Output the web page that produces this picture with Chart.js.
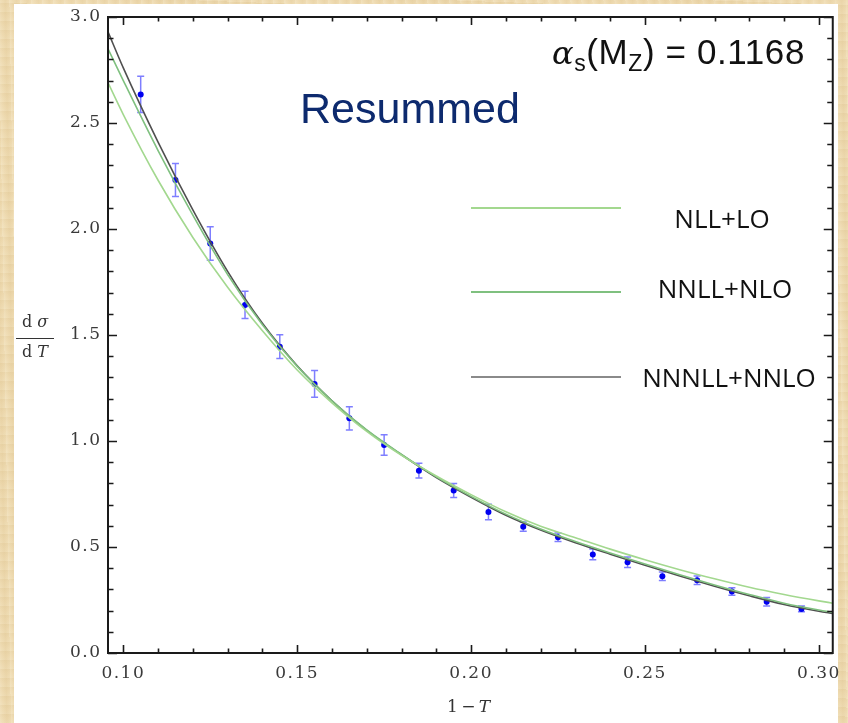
<!DOCTYPE html>
<html>
<head>
<meta charset="utf-8">
<script src="https://cdn.jsdelivr.net/npm/chart.js@4.4.1/dist/chart.umd.min.js"></script>
<style>
  html,body{margin:0;padding:0;}
  body{width:848px;height:723px;position:relative;overflow:hidden;
    background-color:#eedab0;
    background-image:
      repeating-linear-gradient(89deg, rgba(255,250,235,0.18) 0px, rgba(255,255,255,0.0) 3px, rgba(205,170,105,0.12) 7px, rgba(255,255,255,0) 11px),
      repeating-linear-gradient(2deg, rgba(255,250,230,0.12) 0px, rgba(0,0,0,0) 5px, rgba(190,160,100,0.08) 9px);
  }
  #panel{position:absolute;left:14px;top:4px;width:824px;height:719px;background:#fff;}
  #c{position:absolute;left:0;top:0;}
  .txt{position:absolute;white-space:nowrap;}
  #alpha{left:552px;top:32px;font-family:"Liberation Sans",Arial,sans-serif;font-size:35px;letter-spacing:0.6px;color:#111;}
  #alpha .gr{font-family:"DejaVu Serif",serif;font-style:italic;font-size:32px;}
  #alpha sub{font-size:23px;vertical-align:-7px;line-height:0;}
  #resummed{left:300px;top:84px;font-family:"Liberation Sans",Arial,sans-serif;font-size:43px;color:#0d2a6e;}
  .leg-line{position:absolute;height:2px;}
  .leg-lab{position:absolute;font-family:"Open Sans",sans-serif;font-size:26px;color:#111;transform:translate(-50%,-50%);white-space:nowrap;}
  #ytitle{left:16px;top:313px;font-family:"DejaVu Serif",serif;font-size:16px;line-height:18px;color:#333;text-align:center;width:38px;}
  #ytitle .bar{height:1px;background:#333;margin:7px 0 4px 0;}
  #xtitle{left:447px;top:696px;font-family:"DejaVu Serif",serif;font-size:17px;color:#333;}
  i{font-style:italic;}
</style>
</head>
<body>
<div id="panel"></div>
<canvas id="c" width="848" height="723"></canvas>
<div class="txt" id="alpha"><span class="gr">α</span><sub>s</sub>(M<sub>Z</sub>) = 0.1168</div>
<div class="txt" id="resummed">Resummed</div>
<div class="txt" id="ytitle"><div>d&nbsp;<i>σ</i></div><div class="bar"></div><div>d&nbsp;<i>T</i></div></div>
<div class="txt" id="xtitle">1&thinsp;−&thinsp;<i>T</i></div>
<div id="legend"></div>
<script>
// ---- data ----
const curveX   = [0.0956, 0.10, 0.11, 0.12, 0.13, 0.14, 0.15, 0.16, 0.17, 0.18, 0.19, 0.20, 0.21, 0.22, 0.23, 0.24, 0.25, 0.26, 0.27, 0.28, 0.29, 0.30, 0.304];
const nllLO    = [2.69, 2.54, 2.23, 1.96, 1.725, 1.52, 1.335, 1.18, 1.045, 0.932, 0.835, 0.747, 0.666, 0.598, 0.544, 0.490, 0.440, 0.393, 0.350, 0.310, 0.276, 0.246, 0.235];
const nnllNLO  = [2.85, 2.70, 2.37, 2.065, 1.785, 1.548, 1.352, 1.19, 1.052, 0.937, 0.831, 0.739, 0.655, 0.585, 0.526, 0.472, 0.420, 0.369, 0.321, 0.276, 0.235, 0.203, 0.192];
const nnnllNNLO= [2.93, 2.76, 2.41, 2.09, 1.80, 1.555, 1.355, 1.19, 1.05, 0.935, 0.828, 0.735, 0.650, 0.580, 0.520, 0.466, 0.414, 0.363, 0.315, 0.270, 0.229, 0.197, 0.186];

const dataX   = [0.105, 0.115, 0.125, 0.135, 0.145, 0.155, 0.165, 0.175, 0.185, 0.195, 0.205, 0.215, 0.225, 0.235, 0.245, 0.255, 0.265, 0.275, 0.285, 0.295];
const dataY   = [2.635, 2.231, 1.932, 1.642, 1.445, 1.269, 1.107, 0.981, 0.860, 0.766, 0.665, 0.596, 0.546, 0.465, 0.428, 0.362, 0.343, 0.290, 0.242, 0.208];
const dataErr = [0.085, 0.078, 0.079, 0.064, 0.056, 0.063, 0.055, 0.048, 0.035, 0.033, 0.037, 0.022, 0.020, 0.025, 0.025, 0.020, 0.020, 0.018, 0.020, 0.014];

const xTicks = [0.10, 0.15, 0.20, 0.25, 0.30];
const yTicks = [0.0, 0.5, 1.0, 1.5, 2.0, 2.5, 3.0];
const seriesLabels = ['NLL+LO', 'NNLL+NLO', 'NNNLL+NNLO'];
const seriesColors = ['#a3d88f', '#7fc07f', '#505050'];

const pts = (xs, ys) => xs.map((x, i) => ({x: x, y: ys[i]}));

// ---- plugins ----
const spacing = {
  id: 'spacing',
  beforeDraw(chart) { chart.ctx.letterSpacing = '1.5px'; },
  afterDraw(chart) { chart.ctx.letterSpacing = '0px'; }
};

const errorBars = {
  id: 'errorBars',
  beforeDatasetDraw(chart, args) {
    if (args.index !== 3) return;
    const {ctx, scales: {x, y}} = chart;
    ctx.save();
    ctx.strokeStyle = 'rgba(40,40,255,0.6)';
    ctx.lineWidth = 1.5;
    dataX.forEach((xv, i) => {
      const px = x.getPixelForValue(xv);
      const top = y.getPixelForValue(dataY[i] + dataErr[i]);
      const bot = y.getPixelForValue(dataY[i] - dataErr[i]);
      ctx.beginPath();
      ctx.moveTo(px, top); ctx.lineTo(px, bot);
      ctx.moveTo(px - 3.5, top); ctx.lineTo(px + 3.5, top);
      ctx.moveTo(px - 3.5, bot); ctx.lineTo(px + 3.5, bot);
      ctx.stroke();
    });
    ctx.restore();
  }
};

const frameTicks = {
  id: 'frameTicks',
  afterDraw(chart) {
    const {ctx, chartArea: a, scales: {x, y}} = chart;
    ctx.save();
    ctx.strokeStyle = '#1a1a1a';
    ctx.lineWidth = 1.6;
    ctx.beginPath();
    for (let k = 10; k <= 30; k++) {
      const px = Math.round(x.getPixelForValue(k / 100)) + 0.5;
      const len = (k % 5 === 0) ? 8 : 4.5;
      ctx.moveTo(px, a.bottom); ctx.lineTo(px, a.bottom - len);
      ctx.moveTo(px, a.top); ctx.lineTo(px, a.top + len);
    }
    for (let k = 0; k <= 30; k++) {
      const py = Math.round(y.getPixelForValue(k / 10)) + 0.5;
      const len = (k % 5 === 0) ? 9 : 5.5;
      ctx.moveTo(a.left, py); ctx.lineTo(a.left + len, py);
      ctx.moveTo(a.right, py); ctx.lineTo(a.right - len, py);
    }
    ctx.stroke();
    ctx.lineWidth = 2;
    ctx.strokeRect(a.left, a.top, a.right - a.left, a.bottom - a.top);
    ctx.restore();
  }
};

const chart = new Chart(document.getElementById('c'), {
  type: 'scatter',
  data: {
    datasets: [
      {label: seriesLabels[0], data: pts(curveX, nllLO), showLine: true, borderColor: seriesColors[0], borderWidth: 1.6, pointRadius: 0, cubicInterpolationMode: 'monotone'},
      {label: seriesLabels[1], data: pts(curveX, nnllNLO), showLine: true, borderColor: seriesColors[1], borderWidth: 1.6, pointRadius: 0, cubicInterpolationMode: 'monotone'},
      {label: seriesLabels[2], data: pts(curveX, nnnllNNLO), showLine: true, borderColor: seriesColors[2], borderWidth: 1.6, pointRadius: 0, cubicInterpolationMode: 'monotone'},
      {label: 'data', data: pts(dataX, dataY), pointRadius: 3, pointBackgroundColor: '#0000f0', pointBorderColor: '#0000f0', pointBorderWidth: 0}
    ]
  },
  options: {
    responsive: false,
    animation: false,
    events: [],
    layout: {padding: {left: 0, right: 12, top: 17, bottom: 0}},
    plugins: {legend: {display: false}, tooltip: {enabled: false}},
    scales: {
      x: {
        type: 'linear', min: 0.0956, max: 0.304,
        grid: {display: false, drawTicks: false},
        border: {display: false},
        afterBuildTicks: s => { s.ticks = xTicks.map(v => ({value: v})); },
        afterFit: s => { s.height = 70; },
        ticks: {padding: 10, color: '#3a3a3a', font: {family: 'DejaVu Serif', size: 17}, callback: v => v.toFixed(2), maxRotation: 0, autoSkip: false}
      },
      y: {
        type: 'linear', min: 0, max: 3.0,
        grid: {display: false, drawTicks: false},
        border: {display: false},
        afterBuildTicks: s => { s.ticks = yTicks.map(v => ({value: v})); },
        afterFit: s => { s.width = 108; },
        ticks: {padding: 6.5, color: '#3a3a3a', font: {family: 'DejaVu Serif', size: 17}, callback: v => v.toFixed(1), autoSkip: false}
      }
    }
  },
  plugins: [spacing, errorBars, frameTicks]
});

// ---- legend (built from dataset labels/colours) ----
const legendPos = [{y: 208, cx: 722}, {y: 292, cx: 725}, {y: 377, cx: 729}];
const legend = document.getElementById('legend');
chart.data.datasets.slice(0, 3).forEach((ds, i) => {
  const ln = document.createElement('div');
  ln.className = 'leg-line';
  ln.style.cssText = `left:471px;width:150px;top:${legendPos[i].y - 1}px;background:${i === 2 ? '#8a8a8a' : ds.borderColor};`;
  legend.appendChild(ln);
  const lb = document.createElement('div');
  lb.className = 'leg-lab';
  lb.style.left = legendPos[i].cx + 'px';
  lb.style.top = (legendPos[i].y + (i === 0 ? 10 : (i === 1 ? -4 : 0))) + 'px';
  lb.textContent = ds.label;
  legend.appendChild(lb);
});
</script>
</body>
</html>
